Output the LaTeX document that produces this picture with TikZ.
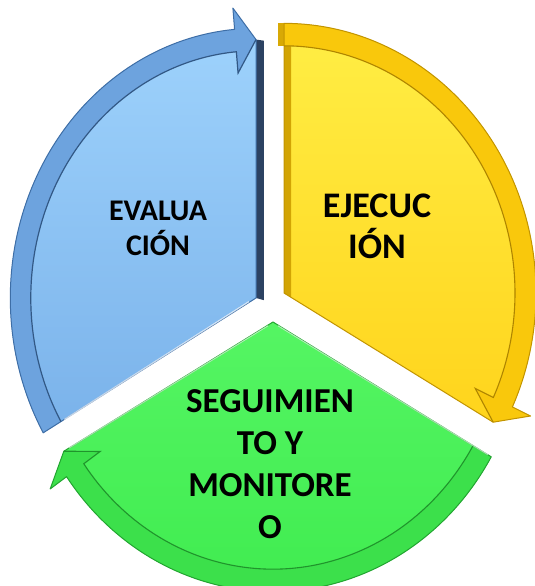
\documentclass[tikz,border=0pt]{standalone}
\usepackage{fontspec}
\setmainfont{Carlito}
\definecolor{bFaceT}{HTML}{A0D4FD}
\definecolor{bFaceB}{HTML}{7AB2EA}
\definecolor{bBand}{HTML}{6DA3DE}
\definecolor{bEdge}{HTML}{3E6EA6}
\definecolor{bWall}{HTML}{2C4262}
\definecolor{yFaceT}{HTML}{FFEE45}
\definecolor{yFaceB}{HTML}{FFD41C}
\definecolor{yBand}{HTML}{F9C80C}
\definecolor{yEdge}{HTML}{C29400}
\definecolor{gFaceT}{HTML}{55F563}
\definecolor{gFaceB}{HTML}{40EC50}
\definecolor{gBand}{HTML}{3CE04B}
\definecolor{gEdge}{HTML}{23A531}
\tikzset{
  seglabel/.style={align=center,text=black,inner sep=0pt},
  outline/.style={line width=1pt,line join=round},
}
\begin{document}
\begin{tikzpicture}[x=1pt,y=1pt]
\useasboundingbox (0,0) rectangle (535,586);
\clip (0,0) rectangle (535,586);
\def\rOut{252}\def\rIn{231}\def\rMid{241.5}\def\rHo{272}\def\rHi{211}
% ---------------- blue segment ----------------
\begin{scope}[shift={(256,288)},xscale=0.975,yscale=1.07]
  \fill[bWall] (0,0) -- (90:\rMid) -- ++(8,-1) -- (8,-2) -- cycle;
  \shade[top color=bFaceT,bottom color=bFaceB]
    (0,0) -- (210:\rOut) arc[start angle=210,end angle=95,radius=\rOut]
    -- (95:\rHo) -- (90:\rMid) -- cycle;
  \fill[bBand]
    (210:\rOut) arc[start angle=210,end angle=95,radius=\rOut]
    -- (95:\rHo) -- (90:\rMid) -- (95:\rHi) -- (95:\rIn)
    arc[start angle=95,end angle=210,radius=\rIn] -- cycle;
  \draw[bEdge,outline]
    (0,0) -- (210:\rOut) arc[start angle=210,end angle=95,radius=\rOut]
    -- (95:\rHo) -- (90:\rMid) -- cycle;
  \draw[bEdge!80!black,line width=1.2pt]
    (210:\rIn) arc[start angle=210,end angle=95,radius=\rIn]
    -- (95:\rHi) -- (90:\rMid);
  \draw[white,opacity=0.7,line width=1.2pt] (205:8) -- (210:\rIn-4);
\end{scope}
% ---------------- yellow segment ----------------
\begin{scope}[shift={(284,293)},yscale=1.07]
  \shade[top color=yFaceT,bottom color=yFaceB]
    (0,0) -- (90:\rOut) arc[start angle=90,end angle=-25,radius=\rOut]
    -- (-25:\rHo) -- (-30:\rMid) -- cycle;
  \fill[yEdge!70!yBand] (0,0) -- (90:\rIn) -- ++(7,0) -- (7,-4) -- cycle;
  \fill[yBand]
    (90:\rOut) arc[start angle=90,end angle=-25,radius=\rOut]
    -- (-25:\rHo) -- (-30:\rMid) -- (-25:\rHi) -- (-25:\rIn)
    arc[start angle=-25,end angle=90,radius=\rIn] -- cycle;
  \fill[yEdge!60!yBand] (90:\rOut) ++(-6,0) rectangle (90:\rIn);
  \draw[yEdge,outline]
    (0,0) -- (90:\rOut) arc[start angle=90,end angle=-25,radius=\rOut]
    -- (-25:\rHo) -- (-30:\rMid) -- cycle;
  \draw[yEdge!90!black,line width=1.1pt]
    (90:\rIn) arc[start angle=90,end angle=-25,radius=\rIn]
    -- (-25:\rHi) -- (-30:\rMid);
\end{scope}
% ---------------- green segment ----------------
\begin{scope}[shift={(273,264)},yscale=1.07]
  \shade[top color=gFaceT,bottom color=gFaceB]
    (0,0) -- (-30:\rOut) arc[start angle=-30,end angle=-145,radius=\rOut]
    -- (-145:\rHo) -- (-150:\rMid) -- cycle;
  \fill[gBand]
    (-30:\rOut) arc[start angle=-30,end angle=-145,radius=\rOut]
    -- (-145:\rHo) -- (-150:\rMid) -- (-145:\rHi) -- (-145:\rIn)
    arc[start angle=-145,end angle=-30,radius=\rIn] -- cycle;
  \draw[gEdge,outline]
    (0,0) -- (-30:\rOut) arc[start angle=-30,end angle=-145,radius=\rOut]
    -- (-145:\rHo) -- (-150:\rMid) -- cycle;
  \draw[gEdge!90!black,line width=1.1pt]
    (-30:\rIn) arc[start angle=-30,end angle=-145,radius=\rIn]
    -- (-145:\rHi) -- (-150:\rMid);
  \draw[white,opacity=0.6,line width=1pt] (-35:6) -- (-30:\rOut-4);
  \draw[white,opacity=0.6,line width=1pt] (-145:6) -- (-150:\rMid-6);
\end{scope}
% ---------------- labels ----------------
\node[seglabel,font=\bfseries\fontsize{30}{35}\selectfont] (evaluacion) at (158,358) {EVALUA\\CIÓN};
\node[seglabel,font=\bfseries\fontsize{36}{41}\selectfont] (ejecucion) at (377,360) {EJECUC\\IÓN};
\node[seglabel,font=\bfseries\fontsize{35}{42}\selectfont] (seguimiento) at (270,122) {SEGUIMIEN\\TO Y\\MONITORE\\O};
\end{tikzpicture}
\end{document}
